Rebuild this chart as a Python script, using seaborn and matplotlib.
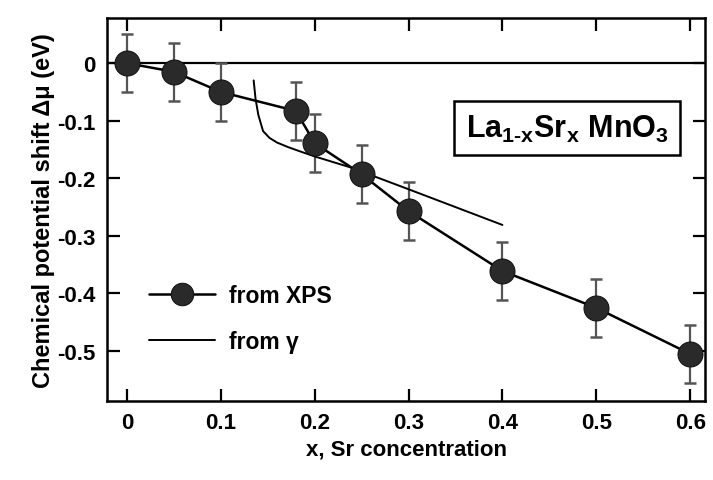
import numpy as np
import pandas as pd
import seaborn as sns
import matplotlib.pyplot as plt

# XPS data points
x_xps = [0.0, 0.05, 0.10, 0.18, 0.20, 0.25, 0.30, 0.40, 0.50, 0.60]
mu_xps = [0.0, -0.015, -0.050, -0.083, -0.139, -0.193, -0.257, -0.361, -0.425, -0.505]
err_xps = [0.05, 0.05, 0.05, 0.05, 0.05, 0.05, 0.05, 0.05, 0.05, 0.05]

# curve derived from gamma
x_gamma = [0.135, 0.137, 0.140, 0.145, 0.152, 0.160, 0.172, 0.184, 0.200, 0.220, 0.238, 0.30, 0.35, 0.40]
mu_gamma = [-0.030, -0.062, -0.090, -0.118, -0.130, -0.138, -0.146, -0.153, -0.162, -0.172, -0.181, -0.219, -0.250, -0.281]

x_ticks = [0, 0.1, 0.2, 0.3, 0.4, 0.5, 0.6]
y_ticks = [0, -0.1, -0.2, -0.3, -0.4, -0.5]

sns.set_style("ticks")
plt.rcParams["font.family"] = ["Liberation Sans", "DejaVu Sans"]
plt.rcParams["font.weight"] = "bold"
plt.rcParams["axes.labelweight"] = "bold"
plt.rcParams["text.color"] = "black"
plt.rcParams["axes.labelcolor"] = "black"
plt.rcParams["xtick.color"] = "black"
plt.rcParams["ytick.color"] = "black"
plt.rcParams["axes.edgecolor"] = "black"
plt.rcParams["mathtext.fontset"] = "custom"
plt.rcParams["mathtext.rm"] = "Liberation Sans:bold"
plt.rcParams["mathtext.it"] = "Liberation Sans:bold"

df_xps = pd.DataFrame({"x": x_xps, "mu": mu_xps, "err": err_xps})
df_gamma = pd.DataFrame({"x": x_gamma, "mu": mu_gamma})

fig = plt.figure(figsize=(7.13, 4.81), dpi=100)
ax = fig.add_axes([0.150, 0.164, 0.839, 0.796])

ax.axhline(0, color="black", lw=1.6, zorder=1)

ax.errorbar(df_xps["x"], df_xps["mu"], yerr=df_xps["err"], fmt="none",
            ecolor="#555555", elinewidth=1.6, capsize=4.5, capthick=1.8, zorder=2)

sns.lineplot(data=df_xps, x="x", y="mu", ax=ax, color="black", lw=1.8,
             marker="o", markersize=18, markerfacecolor="#2a2a2a",
             markeredgecolor="#111111", label="from XPS", zorder=3)
sns.lineplot(data=df_gamma, x="x", y="mu", ax=ax, color="black", lw=1.4,
             sort=False, estimator=None, label="from \u03b3", zorder=2)

ax.set_xlim(-0.0213, 0.616)
ax.set_ylim(-0.587, 0.078)
ax.set_xticks(x_ticks)
ax.set_xticklabels(["0", "0.1", "0.2", "0.3", "0.4", "0.5", "0.6"])
ax.set_yticks(y_ticks)
ax.set_yticklabels(["0", "-0.1", "-0.2", "-0.3", "-0.4", "-0.5"])

ax.tick_params(direction="in", length=9, width=1.6, labelsize=16,
               top=True, right=True, pad=8)
for s in ax.spines.values():
    s.set_linewidth(1.8)

ax.set_xlabel("x, Sr concentration", fontsize=16, labelpad=4)
ax.set_ylabel("Chemical potential shift \u0394\u03bc (eV)", fontsize=17, labelpad=2)

ax.text(0.469, -0.113, r"$\mathregular{La_{1\text{-}x}Sr_x\ MnO_3}$", fontsize=22,
        ha="center", va="center",
        bbox=dict(boxstyle="square,pad=0.38", facecolor="white", edgecolor="black", lw=1.8))

ax.legend(loc="upper left", bbox_to_anchor=(0.035, 0.36), frameon=False,
          fontsize=16.5, handlelength=2.9, handletextpad=0.6, labelspacing=1.0,
          markerscale=0.9)

plt.savefig("out.png", dpi=100)
